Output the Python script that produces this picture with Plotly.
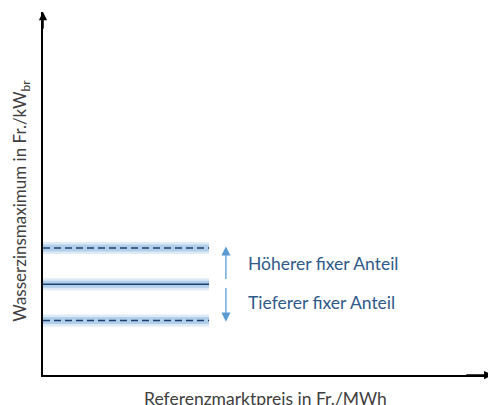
import plotly.graph_objects as go

# Data (arbitrary schematic units)
line_x = [0, 3.74]
level_names = ["Höherer fixer Anteil (Grenze)", "Referenz", "Tieferer fixer Anteil (Grenze)"]
level_values = [3.5, 2.5, 1.5]
level_dash = ["7px,4px", "solid", "7px,4px"]

arrow_x = 4.12
arrow_up = [2.6, 3.54]     # tail, head
arrow_down = [2.44, 1.47]  # tail, head

label_texts = ["Höherer fixer Anteil", "Tieferer fixer Anteil"]
label_x = [4.58, 4.58]
label_y = [3.06, 2.0]

x_range = [0, 10]
y_range = [0, 10]

x_title = "Referenzmarktpreis in Fr./MWh"
y_title = "Wasserzinsmaximum in Fr./kW<sub>br</sub>"

fig = go.Figure()

# glow
for w, a in ((12, 0.2), (7, 0.35)):
    for v in level_values:
        fig.add_trace(go.Scatter(x=line_x, y=[v, v], mode="lines",
                                 line=dict(color=f"rgba(91,155,213,{a})", width=w),
                                 hoverinfo="skip", showlegend=False))
for name, v, d in zip(level_names, level_values, level_dash):
    fig.add_trace(go.Scatter(x=line_x, y=[v, v], mode="lines", name=name,
                             line=dict(color="#1f3f6e", width=1.6, dash=d),
                             showlegend=False))

ann = []
# blue arrows
for tail, head in (arrow_up, arrow_down):
    ann.append(dict(x=arrow_x, y=head, ax=arrow_x, ay=tail, xref="x", yref="y",
                    axref="x", ayref="y", showarrow=True, arrowhead=2,
                    arrowsize=1.4, arrowwidth=1.3, arrowcolor="#5b9bd5", text=""))
for t, lx, ly in zip(label_texts, label_x, label_y):
    ann.append(dict(x=lx, y=ly, xref="x", yref="y", text=t, showarrow=False,
                    xanchor="left", yanchor="middle",
                    font=dict(family="Lato", size=17.5, color="#2f5a8a")))
# axis arrowheads
ann.append(dict(x=0, y=y_range[1], ax=0, ay=y_range[1] - 0.5, xref="x", yref="y",
                axref="x", ayref="y", showarrow=True, arrowhead=2, arrowsize=1.1,
                arrowwidth=1.5, arrowcolor="black", text=""))
ann.append(dict(x=x_range[1] + 0.12, y=0, ax=x_range[1] - 0.5, ay=0, xref="x", yref="y",
                axref="x", ayref="y", showarrow=True, arrowhead=2, arrowsize=1.1,
                arrowwidth=1.5, arrowcolor="black", text=""))
# axis titles
ann.append(dict(x=0.5, y=0, xref="paper", yref="paper", text=x_title, showarrow=False,
                xanchor="center", yanchor="top", yshift=-11,
                font=dict(family="Lato", size=17.5, color="#404040")))
ann.append(dict(x=0, y=0.48, xref="paper", yref="paper", text=y_title, showarrow=False,
                xanchor="center", yanchor="middle", xshift=-22, textangle=-90,
                font=dict(family="Lato", size=17, color="#404040")))

fig.update_layout(
    width=488, height=405,
    margin=dict(l=43, r=1, t=12, b=30),
    paper_bgcolor="white", plot_bgcolor="white",
    xaxis=dict(range=x_range, showline=True, linecolor="black", linewidth=1.5,
               showticklabels=False, ticks="", showgrid=False, zeroline=False,
               fixedrange=True),
    yaxis=dict(range=y_range, showline=True, linecolor="black", linewidth=1.5,
               showticklabels=False, ticks="", showgrid=False, zeroline=False,
               fixedrange=True),
    annotations=ann,
    showlegend=False,
)

fig.write_html("out.html", config={"displayModeBar": False},
               post_script="document.body.style.margin='0';document.body.style.padding='0';")
